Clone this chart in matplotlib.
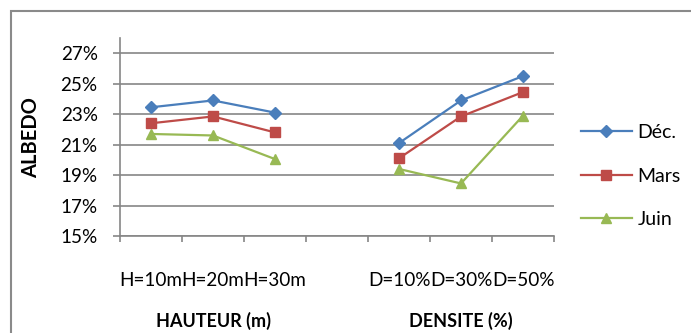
import matplotlib
matplotlib.use("Agg")
import matplotlib.pyplot as plt
from matplotlib.patches import Rectangle
import numpy as np

plt.rcParams['font.family'] = ['Lato', 'DejaVu Sans']

categories = ["H=10m", "H=20m", "H=30m", "", "D=10%", "D=30%", "D=50%"]
series_names = ["Déc.", "Mars", "Juin"]
dec = [23.45, 23.9, 23.1, np.nan, 21.1, 23.9, 25.5]
mars = [22.4, 22.85, 21.8, np.nan, 20.1, 22.85, 24.45]
juin = [21.7, 21.6, 20.05, np.nan, 19.4, 18.45, 22.9]
group_labels = ["HAUTEUR (m)", "DENSITE (%)"]
yticks = [15, 17, 19, 21, 23, 25, 27]

colors = ["#4A7EBB", "#BE4B48", "#98B954"]
markers = ["D", "s", "^"]
msizes = [6, 7.5, 7.5]

W, H = 691, 333
fig = plt.figure(figsize=(W / 100, H / 100), dpi=100)
ax = fig.add_axes([120 / W, (H - 236) / H, (554 - 120) / W, (236 - 38) / H])

x = np.arange(len(categories))
for vals, name, c, m, ms in zip([dec, mars, juin], series_names, colors, markers, msizes):
    ax.plot(x, vals, color=c, marker=m, markersize=ms, linewidth=1.6, label=name,
            markeredgecolor=c, markerfacecolor=c)

ax.set_xlim(-0.5, len(categories) - 0.5)
ax.set_ylim(15, 28)
ax.set_yticks(yticks)
ax.set_yticklabels([f"{v}%" for v in yticks])
ax.set_xticks(np.arange(-0.5, len(categories), 1.0))
ax.set_xticklabels([])
ax.set_xticks(x, minor=True)
ax.set_xticklabels(categories, minor=True)
ax.tick_params(axis='x', which='minor', length=0, pad=26, labelsize=13.6)
ax.tick_params(axis='x', which='major', length=4, color="#868686", width=1.2, direction='out')
ax.tick_params(axis='y', length=5, color="#868686", width=1.2, direction='out', labelsize=13.6, pad=11)

ax.grid(axis='y', color="#868686", linewidth=1.2)
ax.set_axisbelow(True)
for s in ['top', 'right']:
    ax.spines[s].set_visible(False)
for s in ['left', 'bottom']:
    ax.spines[s].set_color("#868686")
    ax.spines[s].set_linewidth(1.2)

# group labels
for i, lab in enumerate(group_labels):
    cx = [1, 5][i]
    ax.annotate(lab, xy=(cx, 0), xycoords=('data', 'axes fraction'),
                xytext=(0, -(321 - 236) * 0.72), textcoords='offset points',
                ha='center', va='center', fontsize=13, fontweight='bold')

fig.text(31 / W, 1 - 138 / H, "ALBEDO", rotation=90, ha='center', va='center',
         fontsize=14.5, fontweight='bold')

leg = ax.legend(loc='center left', bbox_to_anchor=(581 / W, 1 - 176 / H),
                bbox_transform=fig.transFigure, frameon=False, fontsize=14,
                handlelength=2.6, handletextpad=0.3, labelspacing=1.35,
                borderpad=0, borderaxespad=0)

fig.patches.append(Rectangle((10.5 / W, -0.1), 1.2, 1 - 11 / H + 0.1, transform=fig.transFigure,
                             fill=False, edgecolor="#8a8a8a", linewidth=1.5))

fig.savefig("out.png", dpi=100)
